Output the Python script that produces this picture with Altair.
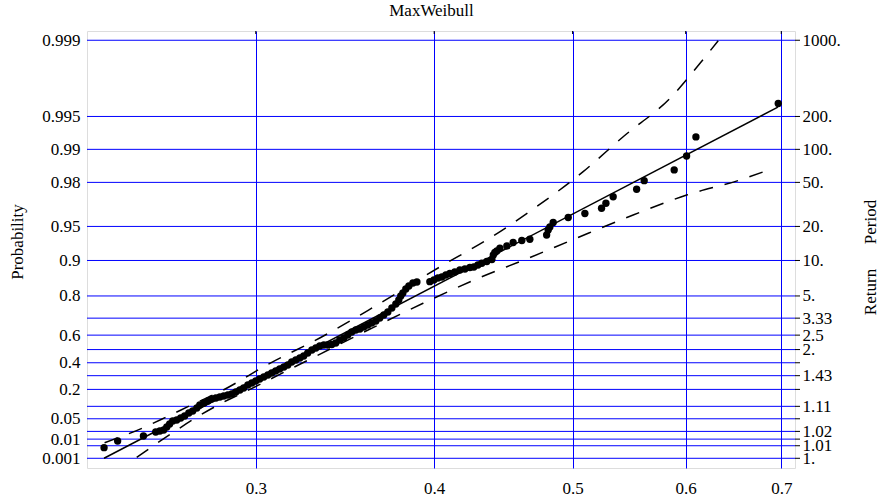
import math
import altair as alt
import pandas as pd

FONT = "Liberation Serif"

# ---- data ----
pt_x = [0.2349, 0.2401, 0.2503, 0.2553, 0.2570, 0.2586, 0.2599, 0.2611, 0.2624, 0.2641,
        0.2658, 0.2675, 0.2693, 0.2710, 0.2728, 0.2741, 0.2759, 0.2777, 0.2794, 0.2813,
        0.2831, 0.2849, 0.2868, 0.2886, 0.2905, 0.2924, 0.2942, 0.2962, 0.2981, 0.3000,
        0.3019, 0.3039, 0.3059, 0.3078, 0.3098, 0.3118, 0.3139, 0.3159, 0.3179, 0.3200,
        0.3221, 0.3241, 0.3262, 0.3284, 0.3305, 0.3326, 0.3348, 0.3369, 0.3391, 0.3413,
        0.3435, 0.3458, 0.3480, 0.3502, 0.3525, 0.3548, 0.3571, 0.3594, 0.3617, 0.3641,
        0.3664, 0.3688, 0.3712, 0.3736, 0.3760, 0.3778, 0.3790, 0.3803, 0.3821, 0.3840,
        0.3865, 0.3890, 0.3972, 0.3998, 0.4024, 0.4050, 0.4076, 0.4102, 0.4135, 0.4169,
        0.4203, 0.4237, 0.4264, 0.4292, 0.4319, 0.4354, 0.4390, 0.4400, 0.4411, 0.4425,
        0.4447, 0.4497, 0.4543, 0.4607, 0.4667, 0.4795, 0.4807, 0.4820, 0.4846, 0.4965,
        0.5100, 0.5239, 0.5276, 0.5338, 0.5544, 0.5612, 0.5890, 0.6009, 0.6100, 0.6966]
pt_p = [0.0040, 0.0083, 0.0134, 0.0190, 0.0207, 0.0224, 0.0283, 0.0353, 0.0433, 0.0463,
        0.0526, 0.0594, 0.0706, 0.0788, 0.0921, 0.1067, 0.1170, 0.1278, 0.1392, 0.1451,
        0.1511, 0.1572, 0.1634, 0.1697, 0.1826, 0.1960, 0.2096, 0.2308, 0.2452, 0.2599,
        0.2748, 0.2899, 0.3052, 0.3206, 0.3360, 0.3516, 0.3671, 0.3827, 0.4059, 0.4214,
        0.4367, 0.4520, 0.4745, 0.4968, 0.5115, 0.5258, 0.5329, 0.5329, 0.5365, 0.5470,
        0.5677, 0.5811, 0.6009, 0.6200, 0.6324, 0.6384, 0.6505, 0.6621, 0.6736, 0.6846,
        0.7008, 0.7163, 0.7311, 0.7499, 0.7676, 0.7843, 0.7999, 0.8109, 0.8248, 0.8347,
        0.8440, 0.8471, 0.8479, 0.8528, 0.8585, 0.8612, 0.8666, 0.8704, 0.8742, 0.8791,
        0.8814, 0.8850, 0.8861, 0.8906, 0.8942, 0.8979, 0.9020, 0.9104, 0.9148, 0.9174,
        0.9218, 0.9254, 0.9305, 0.9333, 0.9349, 0.9404, 0.9462, 0.9494, 0.9539, 0.9584,
        0.9617, 0.9657, 0.9691, 0.9730, 0.9769, 0.9807, 0.9846, 0.9885, 0.9923, 0.9962]

fit_x = [0.2349, 0.6962]
fit_p = [0.0010, 0.9959]

up_x = [0.2351, 0.2503, 0.2606, 0.2720, 0.2832, 0.3069, 0.3326, 0.3596, 0.4058, 0.4376,
        0.4718, 0.5086, 0.5425, 0.5850, 0.6206, 0.6323]
up_p = [0.00696, 0.0269, 0.0594, 0.1154, 0.1846, 0.3959, 0.5811, 0.7393, 0.8905, 0.9366,
        0.96677, 0.98401, 0.99234, 0.99659, 0.99863, 0.99899]
lo_x = [0.2476, 0.2620, 0.2720, 0.2832, 0.2949, 0.3336, 0.3616, 0.3929, 0.4283, 0.4654,
        0.5059, 0.5513, 0.6010, 0.6549, 0.6837]
lo_p = [0.001155, 0.01705, 0.05153, 0.1118, 0.1846, 0.4723, 0.6427, 0.7706, 0.8557, 0.90426,
        0.93827, 0.96052, 0.97396, 0.98098, 0.98434]

grid_p = [0.001, 0.005, 0.01, 0.02, 0.05, 0.1, 0.2, 0.3, 0.4, 0.5, 0.6, 0.7, 0.8, 0.9,
          0.95, 0.98, 0.99, 0.995, 0.999]
left_p = [0.001, 0.01, 0.05, 0.2, 0.4, 0.6, 0.8, 0.9, 0.95, 0.98, 0.99, 0.995, 0.999]
right_p = [0.001, 0.005, 0.02, 0.1, 0.3, 0.5, 0.6, 0.7, 0.8, 0.9, 0.95, 0.98, 0.99, 0.995, 0.999]
x_ticks = [0.3, 0.4, 0.5, 0.6, 0.7]

# ---- scales ----
def gumbel(p):
    return -math.log(-math.log(p))

W, H = 708, 437
x_scale = alt.Scale(type="log", domain=[0.22853, 0.71566], nice=False)
y_scale = alt.Scale(domain=[-2.138, 7.103], nice=False, zero=False)
ZEXPR = "-log(-log(datum.p))"

x_axis = alt.Axis(values=x_ticks, format=".1f", grid=True, gridColor="#0000ff", gridWidth=1,
                  gridOpacity=1, ticks=False, domain=False, labelFont=FONT, labelFontSize=17,
                  labelColor="black", labelPadding=12, labelFlush=False, labelOverlap=False,
                  title=None)
left_axis = alt.Axis(values=[gumbel(p) for p in left_p],
                     labelExpr="format(exp(-exp(-datum.value)), '.3~f')",
                     ticks=False, domain=False, grid=False, labelFont=FONT, labelFontSize=17,
                     labelColor="black", labelPadding=7, labelOverlap=False, title=None)
RT = "format(1/(1-exp(-exp(-datum.value))), '.3~r')"
right_axis = alt.Axis(orient="right", values=[gumbel(p) for p in right_p],
                      labelExpr=f"indexof({RT}, '.') < 0 ? {RT} + '.' : {RT}",
                      ticks=False, domain=False, grid=False, labelFont=FONT, labelFontSize=17,
                      labelColor="black", labelPadding=7, labelOverlap=False, title=None)

grid_df = pd.DataFrame({"p": grid_p})
pts_df = pd.DataFrame({"x": pt_x, "p": pt_p})
fit_df = pd.DataFrame({"x": fit_x, "p": fit_p})
band_df = pd.concat([
    pd.DataFrame({"x": up_x, "p": up_p, "band": "upper"}),
    pd.DataFrame({"x": lo_x, "p": lo_p, "band": "lower"}),
])

grid = alt.Chart(grid_df).transform_calculate(z=ZEXPR).mark_rule(
    color="#0000ff", strokeWidth=1
).encode(y=alt.Y("z:Q", scale=y_scale, axis=left_axis))

rticks = alt.Chart(grid_df).transform_calculate(z=ZEXPR).mark_rule(
    color="black", strokeWidth=1
).encode(x=alt.value(W), x2=alt.value(W + 5),
         y=alt.Y("z:Q", scale=y_scale, axis=right_axis))

tticks = alt.Chart(pd.DataFrame({"x": x_ticks})).mark_rule(
    color="black", strokeWidth=1
).encode(x=alt.X("x:Q", scale=x_scale, axis=x_axis), y=alt.value(0), y2=alt.value(3))

bands = alt.Chart(band_df).transform_calculate(z=ZEXPR).mark_line(
    color="black", strokeWidth=1.5, strokeDash=[14, 12], interpolate="monotone"
).encode(x=alt.X("x:Q", scale=x_scale, axis=x_axis),
         y=alt.Y("z:Q", scale=y_scale, axis=None),
         detail="band:N")

fit = alt.Chart(fit_df).transform_calculate(z=ZEXPR).mark_line(
    color="black", strokeWidth=1.5
).encode(x=alt.X("x:Q", scale=x_scale, axis=x_axis),
         y=alt.Y("z:Q", scale=y_scale, axis=None))

pts = alt.Chart(pts_df).transform_calculate(z=ZEXPR).mark_circle(
    color="black", size=54, opacity=1
).encode(x=alt.X("x:Q", scale=x_scale, axis=x_axis),
         y=alt.Y("z:Q", scale=y_scale, axis=None))

lab_df = pd.DataFrame({"t": ["Probability", "Period", "Return"],
                       "px": [-63.8, 789.4, 789.4],
                       "py": [211, 191, 261]})
labels = alt.Chart(lab_df).mark_text(
    angle=270, font=FONT, fontSize=17, color="black", align="center", baseline="alphabetic"
).encode(x=alt.X("px:Q", scale=None), y=alt.Y("py:Q", scale=None), text="t:N")

title_df = pd.DataFrame({"t": ["MaxWeibull"], "px": [344.5], "py": [-15]})
title = alt.Chart(title_df).mark_text(
    font=FONT, fontSize=17, color="black", align="center", baseline="alphabetic"
).encode(x=alt.X("px:Q", scale=None), y=alt.Y("py:Q", scale=None), text="t:N")

chart = alt.layer(grid, rticks, tticks, bands, fit, pts, labels, title).resolve_axis(
    y="independent"
).properties(
    width=W, height=H,
    autosize=alt.AutoSizeParams(type="none"),
    padding={"left": 87, "top": 31, "right": 85, "bottom": 33},
).configure_view(stroke="black", strokeWidth=1).configure(background="white")

chart.save("out.html", embed_options={"renderer": "svg", "actions": False})
